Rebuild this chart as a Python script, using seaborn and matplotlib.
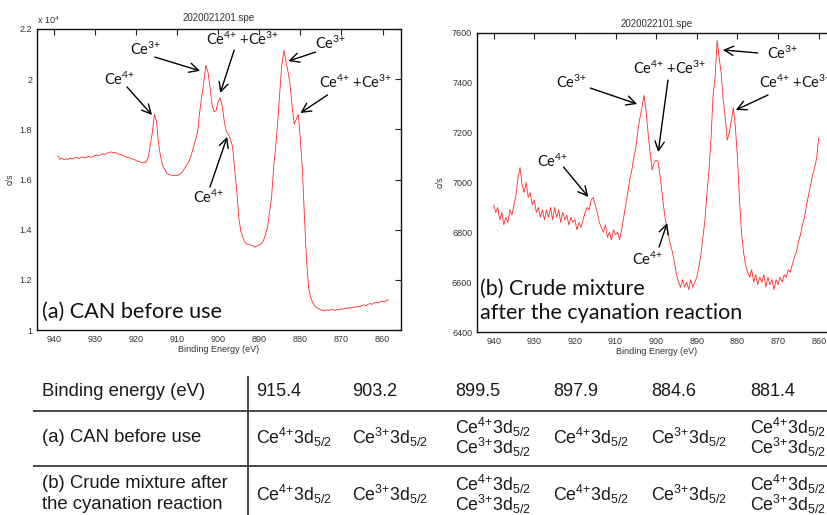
import numpy as np
import pandas as pd
import matplotlib
matplotlib.use("Agg")
import matplotlib.pyplot as plt
import seaborn as sns
from matplotlib.ticker import FuncFormatter

sns.set_theme(style="white")
plt.rcParams["font.family"] = ["Liberation Sans", "DejaVu Sans"]
plt.rcParams["mathtext.default"] = "regular"

# ---------------- data ----------------
# measurement grid: start binding energy and step (eV)
grid_a = [939.0, 0.5]
grid_b = [940.0, 0.5]

# (a) CAN before use, counts/s
cps_a = [16950, 16800, 16850, 16780, 16830, 16800, 16860, 16820, 16850, 16880,
         16840, 16870, 16900, 16860, 16900, 16920, 16880, 16920, 16950, 16980,
         16950, 17000, 17020, 17000, 17050, 17080, 17100, 17060, 17080, 17020,
         17000, 16980, 16950, 16900, 16880, 16860, 16820, 16800, 16760, 16720,
         16700, 16660, 16680, 16700, 16900, 17400, 17900, 18600, 18300, 17400,
         16900, 16550, 16400, 16250, 16200, 16180, 16150, 16170, 16150, 16200,
         16250, 16350, 16500, 16600, 16750, 17000, 17300, 17600, 17900, 18700,
         19300, 19900, 20550, 20300, 19700, 19000, 18700, 18750, 19100, 19250,
         18900, 18300, 17900, 17800, 17600, 17300, 16400, 15600, 14500, 13950,
         13700, 13500, 13420, 13400, 13380, 13350, 13300, 13360, 13380, 13450,
         13550, 13800, 14100, 14700, 15300, 16500, 17300, 18300, 19500, 20600,
         21150, 20700, 20300, 19800, 18900, 18200, 18400, 18600, 17600, 16400,
         14500, 12800, 11700, 11300, 11100, 10950, 10900, 10850, 10800, 10780,
         10760, 10800, 10780, 10820, 10800, 10790, 10830, 10800, 10850, 10830,
         10870, 10850, 10900, 10880, 10920, 10900, 10950, 10930, 10980, 11000,
         10970, 11030, 11050, 11020, 11080, 11100, 11080, 11130, 11150, 11120,
         11180, 11200]

# (b) crude mixture after the cyanation reaction, counts/s
cps_b = [6910, 6880, 6900, 6850, 6880, 6830, 6860, 6840, 6890, 6870,
         6910, 6950, 7020, 7060, 6990, 6960, 7000, 6940, 6960, 6910,
         6930, 6880, 6900, 6860, 6890, 6850, 6890, 6860, 6900, 6850,
         6900, 6860, 6890, 6840, 6880, 6850, 6870, 6830, 6860, 6840,
         6850, 6810, 6840, 6820, 6850, 6880, 6900, 6890, 6930, 6940,
         6910, 6880, 6840, 6820, 6800, 6830, 6780, 6800, 6770, 6810,
         6790, 6800, 6770, 6810, 6860, 6910, 6960, 7010, 7050, 7100,
         7140, 7210, 7260, 7300, 7350, 7290, 7200, 7120, 7050, 7080,
         7090, 7080, 7020, 6950, 6880, 6830, 6790, 6750, 6720, 6680,
         6630, 6600, 6580, 6610, 6580, 6600, 6570, 6610, 6580, 6600,
         6620, 6660, 6710, 6780, 6850, 6960, 7050, 7180, 7350, 7420,
         7570, 7500, 7440, 7330, 7260, 7170, 7200, 7250, 7300, 7220,
         7100, 6930, 6800, 6720, 6670, 6640, 6620, 6650, 6600, 6630,
         6590, 6620, 6600, 6630, 6580, 6620, 6590, 6610, 6570, 6610,
         6590, 6620, 6600, 6630, 6620, 6650, 6640, 6670, 6700, 6720,
         6760, 6790, 6830, 6860, 6910, 6950, 6990, 7030, 7060, 7100,
         7180]

titles = ["2020021201.spe", "2020022101.spe"]
panel_labels = ["(a) CAN before use", "(b) Crude mixture\nafter the cyanation reaction"]
x_label = "Binding Energy (eV)"
y_label = "c/s"
x_ticks = [940, 930, 920, 910, 900, 890, 880, 870, 860]
y_ticks_a = [10000, 12000, 14000, 16000, 18000, 20000, 22000]
y_ticks_b = [6400, 6600, 6800, 7000, 7200, 7400, 7600]

ann_labels_a = ["Ce$^{4{+}}$", "Ce$^{3{+}}$", "Ce$^{4{+}}$ +Ce$^{3{+}}$", "Ce$^{3{+}}$",
                "Ce$^{4{+}}$ +Ce$^{3{+}}$", "Ce$^{4{+}}$"]
ann_labels_b = ["Ce$^{4{+}}$", "Ce$^{3{+}}$", "Ce$^{4{+}}$ +Ce$^{3{+}}$", "Ce$^{3{+}}$",
                "Ce$^{4{+}}$ +Ce$^{3{+}}$", "Ce$^{4{+}}$"]

# table
tab_header = "Binding energy (eV)"
tab_energies = ["915.4", "903.2", "899.5", "897.9", "884.6", "881.4"]
tab_rows = ["(a) CAN before use", "(b) Crude mixture after\nthe cyanation reaction"]
tab_ions_a = [["4"], ["3"], ["4", "3"], ["4"], ["3"], ["4", "3"]]
tab_ions_b = [["4"], ["3"], ["4", "3"], ["4"], ["3"], ["4", "3"]]

# ---------------- figure ----------------
W, H = 828, 515
fig = plt.figure(figsize=(W / 100, H / 100), dpi=100)
fig.patch.set_facecolor("white")

def px_axes(l, t, r, b):
    return fig.add_axes([l / W, 1 - b / H, (r - l) / W, (b - t) / H])

ax_a = px_axes(37, 29, 401, 330)
ax_b = px_axes(477, 33, 837, 332)

df_a = pd.DataFrame({"be": grid_a[0] - grid_a[1] * np.arange(len(cps_a)), "cps": cps_a})
df_b = pd.DataFrame({"be": grid_b[0] - grid_b[1] * np.arange(len(cps_b)), "cps": cps_b})

line_color = "#ff2a2a"
ann_font = ["Lato", "DejaVu Sans"]

for ax, df, yt, title, tpad in [(ax_a, df_a, y_ticks_a, titles[0], 6),
                                (ax_b, df_b, y_ticks_b, titles[1], 4)]:
    sns.lineplot(data=df, x="be", y="cps", ax=ax, color=line_color, lw=0.6)
    ax.set_xlim(944.1, 855.5)
    ax.set_ylim(yt[0], yt[-1])
    ax.set_xticks(x_ticks)
    ax.set_yticks(yt)
    ax.tick_params(direction="in", length=4, width=0.8, top=True, right=True,
                   labelsize=6.5, labelcolor="#333333", color="#222222", pad=3.5)
    for s in ax.spines.values():
        s.set_color("#111111")
        s.set_linewidth(1.0)
    ax.set_xlabel(x_label, fontsize=6.5, color="#333333")
    ax.set_ylabel(y_label, fontsize=6.5, color="#333333")
    ax.set_title(title, fontsize=7, color="#333333", pad=tpad)
    ax.set_facecolor("white")

ax_a.xaxis.set_label_coords(0.5, -0.05)
ax_a.yaxis.set_label_coords(-0.062, 0.5)
ax_b.xaxis.set_label_coords(0.5, -0.05)
ax_b.yaxis.set_label_coords(-0.09, 0.5)
ax_a.yaxis.set_major_formatter(FuncFormatter(lambda v, p: f"{v / 1e4:g}"))
fig.text(37 / W, 1 - 20 / H, "x 10$^4$", fontsize=6.5, color="#333333", va="center")

arrow_kw = dict(arrowstyle="->,head_length=0.55,head_width=0.28", color="black",
                lw=1.0, shrinkA=0, shrinkB=0, mutation_scale=12)

def annotate(ax, labels, specs):
    for lab, (tpos, tail, head) in zip(labels, specs):
        ax.text(tpos[0], tpos[1], lab, ha="center", va="center", fontsize=10.5,
                family=ann_font, color="#111111")
        ax.annotate("", xy=head, xytext=tail, arrowprops=arrow_kw)

annotate(ax_a, ann_labels_a, [
    ((924.0, 20007), (922.2, 19690), (916.1, 18570)),
    ((917.8, 21200), (915.4, 20880), (904.4, 20330)),
    ((894.1, 21600), (896.1, 21160), (899.5, 19450)),
    ((872.7, 21440), (876.3, 21080), (882.9, 20720)),
    ((866.6, 19890), (873.4, 19370), (880.0, 18650)),
    ((902.4, 15300), (902.0, 15700), (897.8, 17700)),
])
annotate(ax_b, ann_labels_b, [
    ((925.5, 7086), (922.8, 7062), (916.7, 6942)),
    ((920.9, 7400), (916.2, 7379), (904.7, 7315)),
    ((896.8, 7459), (897.1, 7411), (899.5, 7122)),
    ((869.0, 7520), (875.0, 7520), (883.6, 7532)),
    ((865.6, 7400), (872.5, 7351), (880.4, 7291)),
    ((902.2, 6693), (899.3, 6741), (897.3, 6837)),
])

# panel labels
ax_a.text(0.014, 0.04, panel_labels[0], transform=ax_a.transAxes, fontsize=15.6,
          family=ann_font, color="#111111", va="baseline", ha="left")
for i, line in enumerate(panel_labels[1].split("\n")):
    ax_b.text(0.008, [0.124, 0.043][i], line, transform=ax_b.transAxes, fontsize=15.5,
              family=ann_font, color="#111111", va="baseline", ha="left")

# ---------------- table ----------------
tax = fig.add_axes([0, 0, 1, 1], zorder=-1)
tax.set_xlim(0, W)
tax.set_ylim(H, 0)
tax.axis("off")

grid_col = "#3a3a3a"
tax.hlines([411, 466], 33, W, color=grid_col, lw=1.3)
tax.vlines(248, 376, H, color=grid_col, lw=1.3)

col_x = [256, 352, 455, 553, 651, 750]
tfs = 12.8
tcol = "#1a1a1a"
tax.text(42, 391, tab_header, fontsize=13.3, color=tcol, va="center", ha="left")
for x, e in zip(col_x, tab_energies):
    tax.text(x, 391, e, fontsize=13, color=tcol, va="center", ha="left")

def cell(ion):
    return "Ce$^{%s{+}}$3d$_{5/2}$" % ion

row_y = [437.5, 494]
for r, (lab, ions) in enumerate(zip(tab_rows, [tab_ions_a, tab_ions_b])):
    lines = lab.split("\n")
    if len(lines) == 1:
        tax.text(42, row_y[r], lines[0], fontsize=13.3, color=tcol, va="center", ha="left")
    else:
        for k, ln in enumerate(lines):
            tax.text(42, row_y[r] - 10.5 + 21 * k, ln, fontsize=13.3, color=tcol,
                     va="center", ha="left")
    for x, c in zip(col_x, ions):
        if len(c) == 1:
            tax.text(x, row_y[r], cell(c[0]), fontsize=tfs,
                     color=tcol, va="center", ha="left")
        else:
            for k, ion in enumerate(c):
                tax.text(x, row_y[r] - 10 + 20 * k, cell(ion),
                         fontsize=tfs, color=tcol, va="center", ha="left")

fig.savefig("out.png", dpi=100, facecolor="white")
